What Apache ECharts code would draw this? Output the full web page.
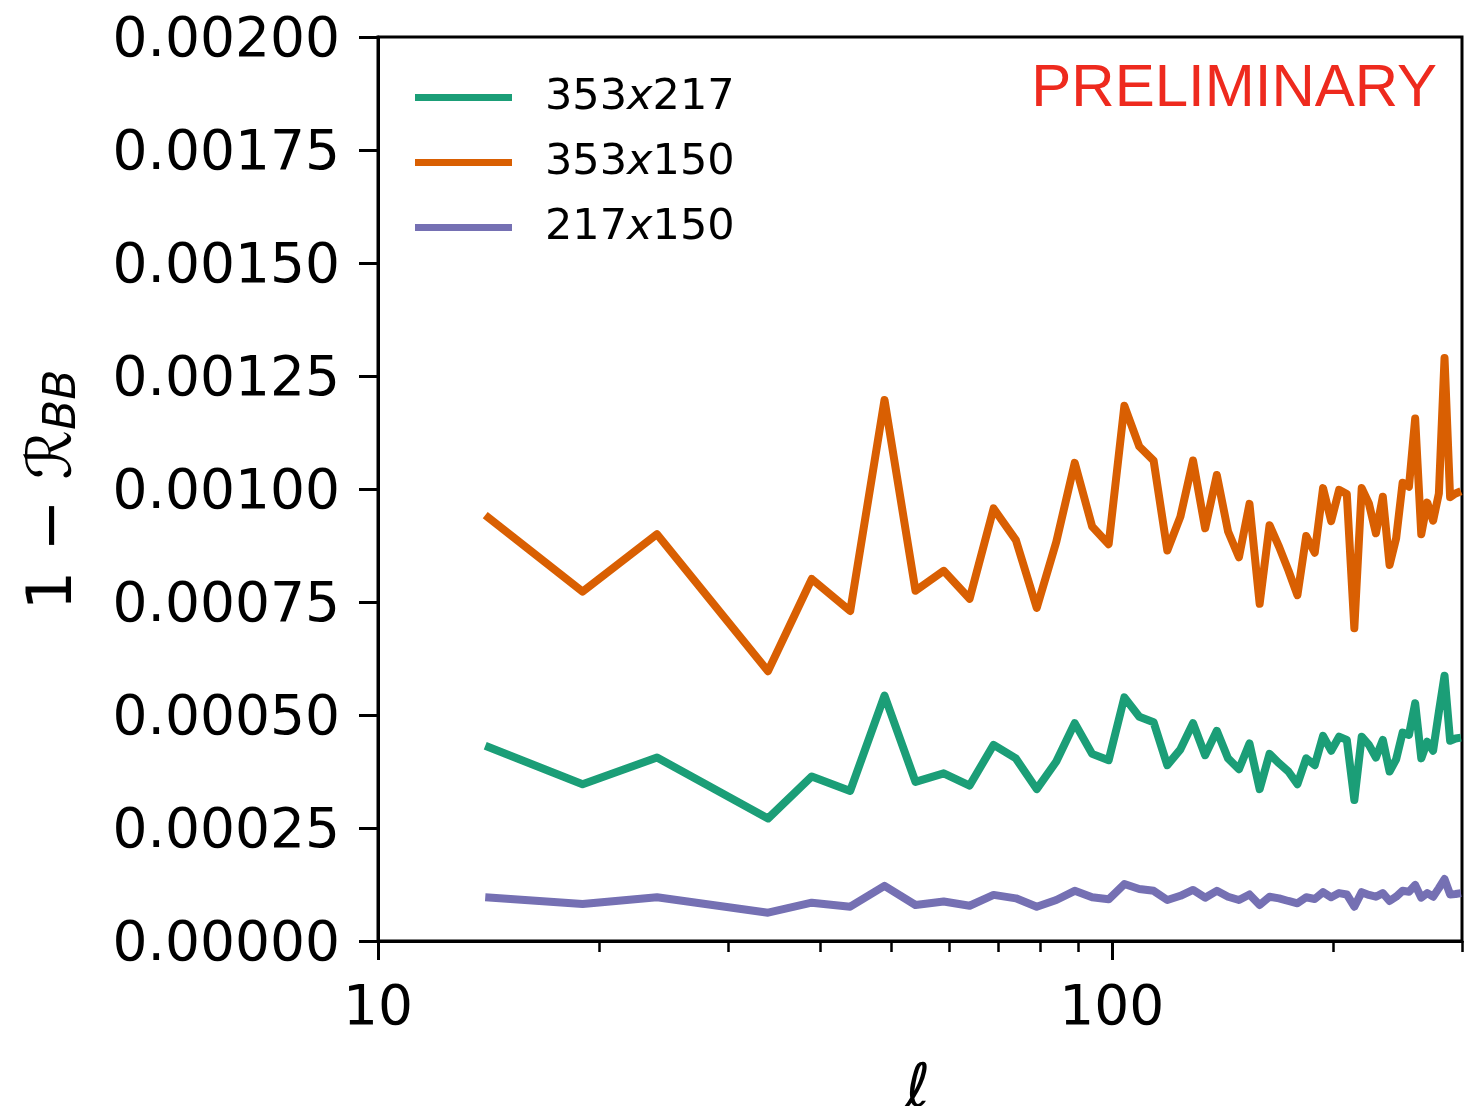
<!DOCTYPE html>
<html>
<head>
<meta charset="utf-8">
<script src="https://cdn.jsdelivr.net/npm/echarts@6/dist/echarts.min.js"></script>
<style>html,body{margin:0;padding:0;background:#fff;}#c{width:1482px;height:1106px;}</style>
</head>
<body>
<div id="c"></div>
<script>
const ell = [14,19,24,34,39,44,49,54,59,64,69,74,79,84,89,94,99,104,109,114,119,124,129,134,139,144,149,154,159,164,169,174,179,184,189,194,199,204,209,214,219,224,229,234,239,244,249,254,259,264,269,274,279,284,289,294,299];

const s353x217 = [0.000432,0.000347,0.000406,0.000271,0.000364,0.000332,0.000543,0.000352,0.000371,0.000344,0.000434,0.000404,0.000336,0.000397,0.000482,0.000414,0.000400,0.000539,0.000496,0.000484,0.000389,0.000424,0.000482,0.000411,0.000465,0.000404,0.000380,0.000437,0.000336,0.000414,0.000393,0.000375,0.000347,0.000404,0.000389,0.000454,0.000421,0.000452,0.000445,0.000312,0.000452,0.000434,0.000406,0.000445,0.000375,0.000402,0.000461,0.000456,0.000526,0.000404,0.000441,0.000421,0.000507,0.000587,0.000443,0.000448,0.000450];

const s353x150 = [0.000942,0.000773,0.000900,0.000597,0.000801,0.000730,0.001197,0.000775,0.000819,0.000757,0.000957,0.000887,0.000737,0.000883,0.001058,0.000917,0.000878,0.001184,0.001094,0.001063,0.000864,0.000939,0.001063,0.000913,0.001031,0.000906,0.000849,0.000967,0.000746,0.000920,0.000872,0.000820,0.000765,0.000896,0.000859,0.001002,0.000929,0.000998,0.000989,0.000692,0.001002,0.000968,0.000902,0.000983,0.000832,0.000891,0.001014,0.001005,0.001156,0.000900,0.000970,0.000930,0.000990,0.001290,0.000982,0.000990,0.000995];

const s217x150 = [0.0000967,0.0000819,0.0000967,0.0000626,0.0000847,0.0000759,0.000122,0.0000796,0.0000875,0.000078,0.000102,0.0000944,0.0000759,0.0000907,0.000111,0.0000967,0.0000922,0.000126,0.000115,0.000111,0.0000907,0.000100,0.000113,0.0000958,0.000111,0.000098,0.0000907,0.000103,0.0000796,0.000098,0.0000944,0.0000885,0.0000834,0.0000967,0.0000929,0.000108,0.0000967,0.000106,0.000103,0.0000759,0.000108,0.000102,0.000098,0.000106,0.0000885,0.000098,0.000111,0.000109,0.000124,0.0000958,0.000106,0.000098,0.000117,0.000137,0.000103,0.000104,0.000106];

const seriesNames = ['353x217','353x150','217x150'];
const seriesColors = ['#1b9e77','#d95f02','#7570b3'];
const seriesValues = [s353x217, s353x150, s217x150];

const xMajorTicks = [10, 100];
const xMinorTicks = [20,30,40,50,60,70,80,90,200,300];
const xMin = 10, xMax = 300;
const yMin = 0, yMax = 0.002, yStep = 0.00025;

const chart = echarts.init(document.getElementById('c'));
const F = 'DejaVu Sans';

chart.setOption({
  animation: false,
  backgroundColor: '#fff',
  grid: {left: 378, right: 20, top: 37, bottom: 165, show: true, borderColor: '#000', borderWidth: 3, outerBoundsMode: 'none', containLabel: false},
  legend: {
    orient: 'vertical', left: 415, top: 76, padding: 0, itemWidth: 97, itemHeight: 7, itemGap: 22,
    icon: 'rect',
    data: seriesNames,
    formatter: function (n) { const p = n.split('x'); return '{n|' + p[0] + '}{i|x}{n|' + p[1] + '}'; },
    textStyle: {
      padding: [0,0,0,28],
      rich: {
        n: {fontFamily: F, fontSize: 43, color: '#000', lineHeight: 43},
        i: {fontFamily: F, fontSize: 43, fontStyle: 'italic', color: '#000', lineHeight: 43}
      }
    }
  },
  xAxis: [{
    type: 'log', logBase: 10, min: xMin, max: xMax,
    axisLine: {show: true, lineStyle: {color: '#000', width: 3}},
    axisTick: {show: true, inside: false, length: 19, customValues: xMajorTicks, lineStyle: {color: '#000', width: 3}},
    axisLabel: {show: true, customValues: xMajorTicks, margin: 41, fontFamily: F, fontSize: 55, color: '#000'},
    splitLine: {show: false}, minorTick: {show: false}
  }, {
    type: 'log', logBase: 10, min: xMin, max: xMax, position: 'bottom',
    axisLine: {show: false},
    axisTick: {show: true, inside: false, length: 11, customValues: xMinorTicks, lineStyle: {color: '#000', width: 2.5}},
    axisLabel: {show: false},
    splitLine: {show: false}
  }],
  yAxis: {
    type: 'value', min: yMin, max: yMax, interval: yStep,
    axisLine: {show: true, lineStyle: {color: '#000', width: 3}},
    axisTick: {show: true, inside: false, length: 19, lineStyle: {color: '#000', width: 3}},
    axisLabel: {margin: 38, color: '#000',
      formatter: function (v) { return '{v|' + v.toFixed(5) + '}'; },
      rich: {v: {fontFamily: F, fontSize: 55, color: '#000', lineHeight: 55, padding: [10,0,0,0]}}
    },
    splitLine: {show: false}
  },
  series: seriesNames.map(function (name, k) {
    return {
      name: name, type: 'line', showSymbol: false, symbol: 'none',
      data: ell.map(function (x, i) { return [x, seriesValues[k][i]]; }),
      lineStyle: {color: seriesColors[k], width: 8, join: 'round', cap: 'butt'},
      itemStyle: {color: seriesColors[k]},
      z: 3 + k
    };
  }),
  graphic: [
    {type: 'text', x: 1437, y: 89, style: {text: 'PRELIMINARY', fontFamily: 'Liberation Sans', fontSize: 60, fill: '#ee2a1e', align: 'right', verticalAlign: 'middle'}},
    {type: 'text', x: 55, y: 490, rotation: Math.PI / 2, style: {
      text: '{a|1 − }{r|ℛ}{s|BB}', align: 'center', verticalAlign: 'middle',
      rich: {
        a: {fontFamily: F, fontSize: 62, lineHeight: 62, fill: '#000'},
        r: {fontFamily: F, fontSize: 62, lineHeight: 62, fill: '#000'},
        s: {fontFamily: F, fontSize: 44, fontStyle: 'italic', lineHeight: 36, verticalAlign: 'bottom', fill: '#000'}
      }
    }},
    {type: 'text', x: 918, y: 1090, style: {text: 'ℓ', fontFamily: F, fontStyle: 'italic', fontSize: 60, fill: '#000', align: 'center', verticalAlign: 'middle'}}
  ]
});
</script>
</body>
</html>
